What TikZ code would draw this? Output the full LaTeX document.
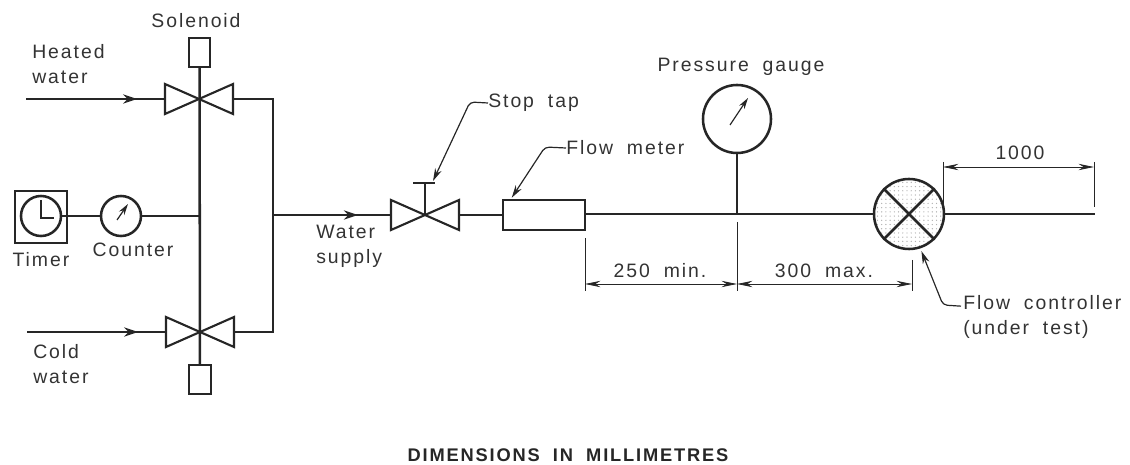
\documentclass[tikz,border=0pt]{standalone}
\usepackage{fontspec}
\setmainfont[LetterSpace=10,WordSpace=1.9]{Liberation Sans}
\usetikzlibrary{positioning,calc,patterns,decorations.markings,arrows.meta}
\tikzset{
    pipe/.style={line width=1.8pt,black!85},
    thinline/.style={line width=0.6pt,black!85},
    dimarrow/.style={thinline,{Stealth[length=11pt,width=4.5pt]}-{Stealth[length=11pt,width=4.5pt]}},
    leader/.style={line width=0.85pt,black!85,rounded corners=3pt,{Stealth[length=9pt,width=5pt]}-},
    needle/.style={line width=0.85pt,black!85,-{Stealth[length=8pt,width=4.5pt]}},
    lbl/.style={font=\fontsize{13.8}{17.8}\selectfont,text=black!80,inner sep=0pt,align=left},
    box/.style={draw,pipe,fill=white,inner sep=0pt},
    dial/.style={circle,draw,pipe,fill=white,inner sep=0pt},
    flowmark/.style={postaction={decorate},decoration={markings,
        mark=at position #1 with {\arrow{Stealth[length=10pt,width=6.5pt]}}}},
    valve/.pic={
        \draw[pipe,line width=1.5pt] (0,0) -- (-34,-15) -- (-34,15) -- cycle;
        \draw[pipe,line width=1.5pt] (0,0) -- (34,-15) -- (34,15) -- cycle;
        \coordinate (-in) at (-34,0);
        \coordinate (-out) at (34,0);
        \coordinate (-mid) at (0,0);
    }
}
\begin{document}
\begin{tikzpicture}[x=0.025cm,y=-0.025cm]
    \useasboundingbox (0,0) rectangle (1130,465);

    % supply valves
    \pic (hot) at (199,99) {valve};
    \pic (cold) at (200,332) {valve};
    \node[box,minimum width=0.52cm,minimum height=0.72cm] (soltop) at (199.5,52.5) {};
    \node[box,minimum width=0.55cm,minimum height=0.72cm] (solbot) at (200,379.5) {};
    \draw[pipe] (soltop) -- (solbot);
    \coordinate (hotstart) at (26,99);
    \coordinate (coldstart) at (27,332);
    \coordinate (hotright) at (273,99);
    \coordinate (coldright) at (273,332);
    \draw[pipe,flowmark=0.8] (hotstart) -- (hot-in);
    \draw[pipe,flowmark=0.8] (coldstart) -- (cold-in);
    \draw[pipe] (hot-out) -- (hotright) -- (coldright) -- (cold-out);

    % timer and counter
    \node[box,line width=1.5pt,minimum width=1.28cm,minimum height=1.3cm] (timerbox) at (41,217) {};
    \node[dial,minimum size=1cm] (timer) at (41,216) {};
    \node[dial,minimum size=1cm] (counter) at (121,216) {};
    \coordinate (countend) at (199,216);
    \draw[pipe] (timer) -- (counter);
    \draw[pipe] (counter) -- (countend);
    \draw[pipe,line width=1.2pt] (41,200) -- (41,218) -- (54,218);
    \draw[needle] (117,220) -- (128,204);

    % stop tap and flow meter
    \coordinate (junction) at (273,215);
    \pic (tap) at (425,215) {valve};
    \coordinate (tapstem) at (425,183);
    \coordinate (barleft) at (413,183);
    \coordinate (barright) at (435,183);
    \draw[pipe,flowmark=0.72] (junction) -- (tap-in);
    \draw[pipe] (tap-mid) -- (tapstem);
    \draw[pipe,line width=1.2pt] (barleft) -- (barright);
    \node[box,minimum width=2.05cm,minimum height=0.75cm] (meter) at (544,215) {};
    \draw[pipe] (tap-out) -- (meter);

    % gauge, controller, outlet
    \node[dial,minimum size=1.7cm] (gauge) at (737,119) {};
    \node[circle,draw,pipe,pattern=dots,pattern color=black!30,inner sep=0pt,minimum size=1.75cm] (ctrl) at (909,214) {};
    \coordinate (tee) at (737,214);
    \coordinate (outlet) at (1095,214);
    \draw[pipe] (meter.east |- tee) -- (tee) -- (ctrl);
    \draw[pipe] (gauge) -- (tee);
    \draw[pipe] (ctrl) -- (outlet);
    \draw[pipe] (ctrl.45) -- (ctrl.225);
    \draw[pipe] (ctrl.135) -- (ctrl.315);
    \draw[needle] (730,125) -- (748,98);

    % dimensions
    \coordinate (tickA) at (585,238);
    \coordinate (tickAb) at (585,291);
    \coordinate (tickB) at (737,222);
    \coordinate (tickBb) at (737,291);
    \coordinate (tickC) at (912,260);
    \coordinate (tickCb) at (912,291);
    \coordinate (tickD) at (943,162);
    \coordinate (tickDb) at (943,208);
    \coordinate (tickE) at (1094,162);
    \coordinate (tickEb) at (1094,207);
    \draw[thinline] (tickA) -- (tickAb);
    \draw[thinline] (tickB) -- (tickBb);
    \draw[thinline] (tickC) -- (tickCb);
    \draw[thinline] (tickD) -- (tickDb);
    \draw[thinline] (tickE) -- (tickEb);
    \coordinate (dimA) at (585,284);
    \coordinate (dimB) at (737,284);
    \coordinate (dimC) at (912,284);
    \coordinate (dimD) at (943,167);
    \coordinate (dimE) at (1094,167);
    \draw[dimarrow] (dimA) -- (dimB);
    \draw[dimarrow] (dimB) -- (dimC);
    \draw[dimarrow] (dimD) -- (dimE);
    \node[lbl] (dimlow) at (660,271) {250 min.};
    \node[lbl] (dimhigh) at (824,271) {300 max.};
    \node[lbl] (dimout) at (1020,153) {1000};

    % labels
    \node[lbl] (solenoid) at (196,21) {Solenoid};
    \node[lbl,anchor=west] (heated) at (32,64) {Heated\\water};
    \node[lbl,anchor=west] (coldlbl) at (33,364) {Cold\\water};
    \node[lbl] (timerlbl) at (41,260) {Timer};
    \node[lbl] (counterlbl) at (133,250) {Counter};
    \node[lbl,anchor=west] (supply) at (316,246) {Water\\supply};
    \node[lbl,anchor=west] (stoplbl) at (488,103) {Stop tap};
    \node[lbl,anchor=west] (meterlbl) at (566,148) {Flow meter};
    \node[lbl] (gaugelbl) at (741,67) {Pressure gauge};
    \node[lbl,anchor=west] (ctrllbl) at (963,317) {Flow controller\\(under test)};
    \node[lbl,font=\fontsize{13}{16}\selectfont\bfseries,text=black!85] (units) at (568,455) {DIMENSIONS IN MILLIMETRES};

    % leaders
    \coordinate (stoptip) at (433,181);
    \coordinate (stopknee) at (470,102);
    \coordinate (meterknee) at (545,147);
    \coordinate (ctrlknee) at (943,305);
    \draw[leader] (stoptip) -- (stopknee) -- (stoplbl.west);
    \draw[leader] (meter.north west)++(10,-1) -- (meterknee) -- (meterlbl.west);
    \draw[leader] (ctrl.-70)++(0,3) -- (ctrlknee) -- ($(ctrllbl.north west)+(-2,11)$);
\end{tikzpicture}
\end{document}
